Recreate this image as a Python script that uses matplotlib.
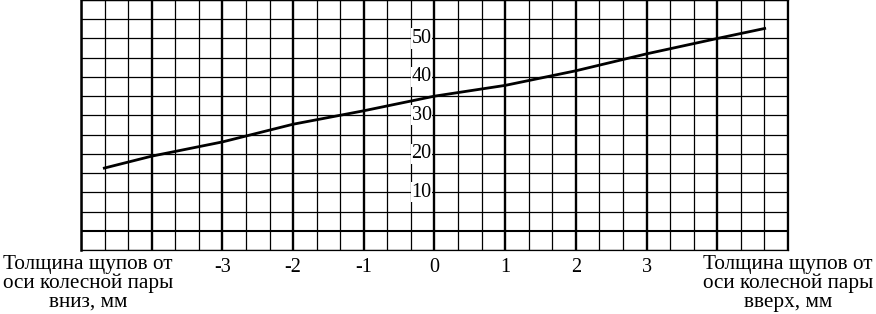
import numpy as np
import matplotlib
matplotlib.use('Agg')
import matplotlib.pyplot as plt

# данные
x_mm = [-4.67, -4, -3, -2, -1, 0, 1, 2, 3, 4, 4.67]
y_val = [16.3, 19.4, 23.1, 27.7, 31.2, 35.0, 37.8, 41.6, 46.0, 50.0, 52.6]
x_ticks = [-3, -2, -1, 0, 1, 2, 3]
y_ticks = [10, 20, 30, 40, 50]
left_label = 'Толщина щупов от\nоси колесной пары\nвниз, мм'
right_label = 'Толщина щупов от\nоси колесной пары\nвверх, мм'

plt.rcParams['font.family'] = ['Liberation Serif', 'DejaVu Serif']

fig = plt.figure(figsize=(8.76, 3.14), dpi=100)
ax = fig.add_axes([81 / 876, 64 / 314, 707 / 876, 250 / 314])
ax.set_xlim(-5, 5)
ax.set_ylim(-5, 60)

# сетка
for xv in np.arange(-5, 5.01, 1 / 3):
    major = abs(xv - round(xv)) < 1e-6
    ax.axvline(xv, color='black', lw=1.7 if major else 0.9, zorder=1)
for yv in np.arange(-5, 60.1, 5):
    ax.axhline(yv, color='black', lw=1.5 if yv == 0 else 0.9, zorder=1)

for s in ax.spines.values():
    s.set_linewidth(0.9)
ax.spines['left'].set_linewidth(1.8)

ax.plot(x_mm, y_val, color='black', lw=2.0, zorder=3)

for yt in y_ticks:
    ax.text(-0.04, yt, str(yt), ha='right', va='center', fontsize=14.5, zorder=4,
            bbox=dict(facecolor='white', edgecolor='none', pad=0.5))

ax.set_xticks([])
ax.set_yticks([])
for xt in x_ticks:
    ax.annotate(str(xt), (xt, -5), xytext=(0, -6), textcoords='offset points',
                ha='center', va='top', fontsize=14.5, annotation_clip=False)

fig.text(88 / 876, 1 - 255 / 314, left_label, ha='center', va='top',
         fontsize=15.3, linespacing=0.98)
fig.text(788 / 876, 1 - 255 / 314, right_label, ha='center', va='top',
         fontsize=15.3, linespacing=0.98)

fig.savefig('out.png', dpi=100)
